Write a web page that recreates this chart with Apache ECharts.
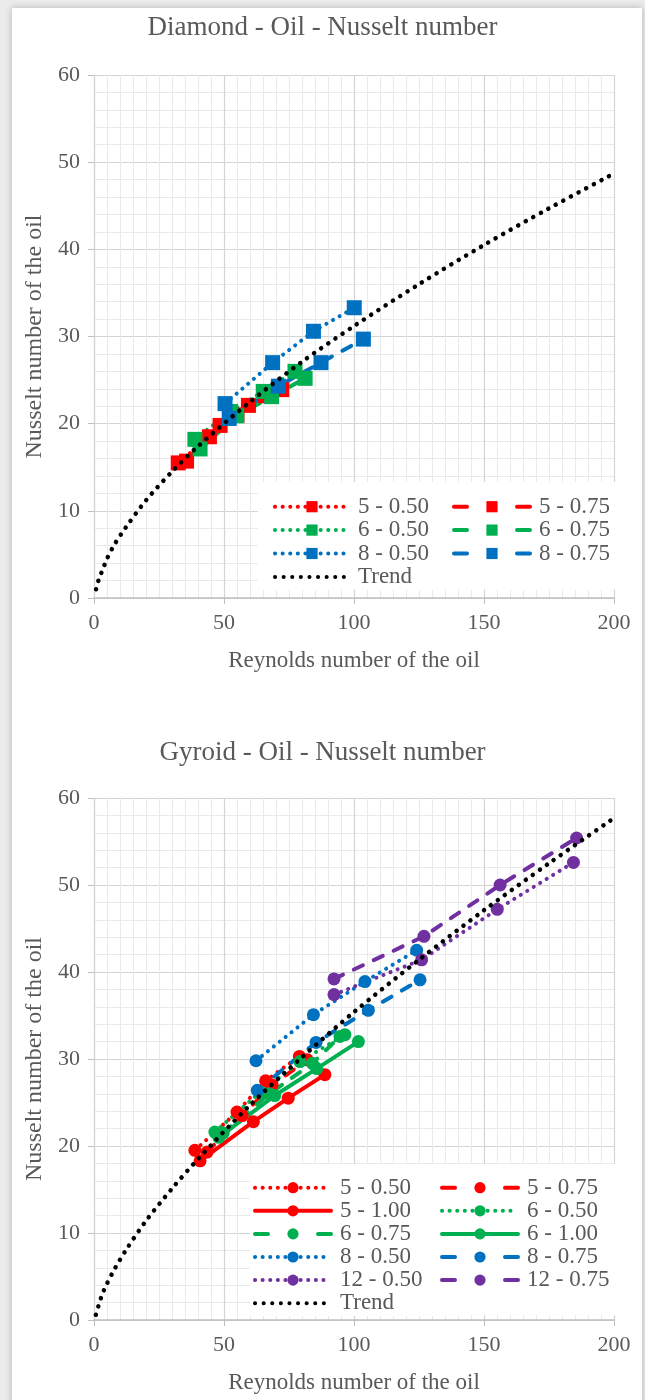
<!DOCTYPE html>
<html>
<head>
<meta charset="utf-8">
<script src="https://cdn.jsdelivr.net/npm/echarts@6/dist/echarts.min.js"></script>
<style>
  html, body { margin: 0; padding: 0; background: #ececec; }
  #card { position: absolute; left: 12px; top: 8px; width: 630px; height: 1400px; background: #fff; box-shadow: 0 0 7px rgba(0,0,0,0.25); }
  #c1 { position: absolute; left: 0; top: 0; width: 645px; height: 700px; }
  #c2 { position: absolute; left: 0; top: 700px; width: 645px; height: 700px; }
</style>
</head>
<body>
<div id="card"></div>
<div id="c1"></div>
<div id="c2"></div>
<script>
// ---------- Data ----------
const titles = ['Diamond - Oil - Nusselt number', 'Gyroid - Oil - Nusselt number'];
const xName = 'Reynolds number of the oil';
const yName = 'Nusselt number of the oil';

// Diamond
const d5_050 = [[32.4,15.5],[44.4,18.5],[55.0,21.0],[66.0,23.2]];
const d5_075 = [[35.6,15.7],[48.5,19.8],[59.4,22.1],[72.2,23.9]];
const d6_050 = [[38.8,18.2],[52.5,21.4],[65.1,23.7],[77.3,26.0]];
const d6_075 = [[40.8,17.1],[54.9,20.9],[68.3,23.1],[81.2,25.2]];
const d8_050 = [[50.4,22.3],[68.7,27.0],[84.4,30.6],[100.1,33.3]];
const d8_075 = [[52.0,20.6],[70.9,24.3],[87.3,27.0],[103.6,29.7]];
const dTrend = [[0.8,1.0],[1.8,2.1],[3.4,3.3],[5,4.5],[8,6.2],[12,8.0],[20,11.2],[30,14.5],[40,17.4],[60,22.5],[80,27.1],[100,31.2],[125,36.0],[150,40.5],[175,44.7],[200,48.7]];

// Gyroid
const g5_050 = [[38.8,19.5],[55.0,23.9],[66.0,27.5],[79.0,30.3]];
const g5_075 = [[43.5,19.3],[57.0,23.5],[68.5,27.0],[82.0,29.9]];
const g5_100 = [[40.8,18.3],[61.3,22.8],[74.7,25.5],[88.8,28.2]];
const g6_050 = [[46.5,21.6],[64.0,26.2],[79.2,29.7],[96.5,32.8]];
const g6_075 = [[49.7,21.5],[67.5,26.0],[84.0,29.5],[94.6,32.6]];
const g6_100 = [[48.0,21.0],[69.5,25.8],[85.7,28.9],[101.7,32.0]];
const g8_050 = [[62.3,29.8],[84.4,35.1],[104.2,38.9],[124.1,42.5]];
const g8_075 = [[62.8,26.4],[85.4,31.9],[105.5,35.6],[125.4,39.1]];
const g12_050 = [[92.3,37.4],[126.0,41.4],[155.1,47.2],[184.4,52.6]];
const g12_075 = [[92.3,39.2],[126.9,44.1],[156.2,50.0],[185.6,55.4]];
const gTrend = [[0.7,0.6],[1.8,1.7],[3.1,2.9],[4.7,4.0],[8,5.9],[12,7.9],[20,11.4],[30,15.1],[40,18.5],[60,24.7],[80,30.2],[100,35.4],[125,41.4],[150,47.1],[175,52.5],[200,57.7]];

const xMin = 0, xMax = 200, xStep = 50;
const yMin = 0, yMax = 60, yStep = 10;

// ---------- Styling ----------
const FONT = 'Liberation Serif';
const TXT = '#595959';
const C = { red: '#FF0000', green: '#00B050', blue: '#0070C0', purple: '#7030A0', black: '#000000' };
const DOT = [0.1, 7.5];
const DASH = [10, 12];

function xAxis() {
  return {
    type: 'value', min: xMin, max: xMax, interval: xStep,
    name: xName, nameLocation: 'middle', nameGap: 51,
    nameTextStyle: { fontFamily: FONT, fontSize: 23, color: TXT },
    axisLine: { show: true, lineStyle: { color: '#bfbfbf', width: 1.5 } },
    axisTick: { show: true, length: 6, lineStyle: { color: '#bfbfbf' } },
    axisLabel: { fontFamily: FONT, fontSize: 22, color: TXT, margin: 14 },
    splitLine: { show: true, lineStyle: { color: '#d4d4d4', width: 1.2 } },
    minorTick: { show: false, splitNumber: 10 },
    minorSplitLine: { show: true, lineStyle: { color: '#eaeaea', width: 1 } }
  };
}
function yAxis() {
  return {
    type: 'value', min: yMin, max: yMax, interval: yStep,
    name: yName, nameLocation: 'middle', nameGap: 47,
    nameTextStyle: { fontFamily: FONT, fontSize: 24, color: TXT },
    axisLine: { show: true, lineStyle: { color: '#d4d4d4', width: 1.2 } },
    axisTick: { show: true, length: 6, lineStyle: { color: '#bfbfbf' } },
    axisLabel: { fontFamily: FONT, fontSize: 22, color: TXT, margin: 14 },
    splitLine: { show: true, lineStyle: { color: '#d4d4d4', width: 1.2 } },
    minorTick: { show: false, splitNumber: 5 },
    minorSplitLine: { show: true, lineStyle: { color: '#eaeaea', width: 1 } }
  };
}

function s(name, data, color, dash, symbol, size) {
  return {
    name: name, type: 'line', data: data,
    symbol: symbol, symbolSize: size, showSymbol: true,
    itemStyle: { color: color },
    lineStyle: { color: color, width: 4, type: dash, cap: 'round' },
    z: 2, emphasis: { disabled: true }
  };
}
function trend(data) {
  return {
    name: 'Trend', type: 'line', data: data,
    symbol: 'none', smooth: 0.3,
    itemStyle: { color: C.black },
    lineStyle: { color: C.black, width: 4.5, type: [0.1, 8.5], cap: 'round' },
    z: 3, emphasis: { disabled: true }
  };
}

const legendText = { fontFamily: FONT, fontSize: 23, color: TXT, lineHeight: 23.4, padding: [0, 0, 0, 4] };
function legendItem(n) {
  if (n === 'Trend') return { name: n, itemStyle: { opacity: 0, borderWidth: 0 } };
  if (/0\.75$/.test(n)) return { name: n, lineStyle: { type: [13, 50], width: 4, cap: 'round' } };
  return n;
}
function legend(data, left, top, padding, itemWidth, gap) {
  return {
    data: data.map(legendItem),
    orient: 'vertical', left: left, top: top, padding: padding,
    itemWidth: itemWidth, itemHeight: 14, itemGap: gap,
    lineStyle: { width: 4, cap: 'round' },
    backgroundColor: '#ffffff', textStyle: legendText, selectedMode: false,
    inactiveColor: TXT
  };
}
function titleOpt(text, top) {
  return { text: text, left: 'center', top: top, textStyle: { fontFamily: FONT, fontSize: 27, fontWeight: 'normal', color: TXT } };
}

const option1 = {
  animation: false,
  backgroundColor: 'transparent',
  title: titleOpt(titles[0], 9),
  grid: { left: 94, top: 75, width: 520, height: 523 },
  xAxis: xAxis(),
  yAxis: yAxis(),
  legend: [
    legend(['5 - 0.50', '6 - 0.50', '8 - 0.50', 'Trend'], 258, 482, [13, 12, 1, 15], 74, 0),
    legend(['5 - 0.75', '6 - 0.75', '8 - 0.75'], 440, 482, [13, 30, 24.4, 12], 76, 0)
  ],
  series: [
    s('5 - 0.50', d5_050, C.red, DOT, 'rect', 15),
    s('5 - 0.75', d5_075, C.red, DASH, 'rect', 15),
    s('6 - 0.50', d6_050, C.green, DOT, 'rect', 15),
    s('6 - 0.75', d6_075, C.green, DASH, 'rect', 15),
    s('8 - 0.50', d8_050, C.blue, DOT, 'rect', 15),
    s('8 - 0.75', d8_075, C.blue, DASH, 'rect', 15),
    trend(dTrend)
  ]
};

const option2 = {
  animation: false,
  backgroundColor: 'transparent',
  title: titleOpt(titles[1], 34),
  grid: { left: 94, top: 98, width: 520, height: 522 },
  xAxis: xAxis(),
  yAxis: yAxis(),
  legend: [
    legend(['5 - 0.50', '5 - 1.00', '6 - 0.75', '8 - 0.50', '12 - 0.50', 'Trend'], 250, 464, [12, 12, 1, 3], 76, -0.3),
    legend(['5 - 0.75', '6 - 0.50', '6 - 1.00', '8 - 0.75', '12 - 0.75'], 430, 464, [12, 30, 23.5, 10], 76, -0.3)
  ],
  series: [
    s('5 - 0.50', g5_050, C.red, DOT, 'circle', 13),
    s('5 - 0.75', g5_075, C.red, DASH, 'circle', 13),
    s('5 - 1.00', g5_100, C.red, 'solid', 'circle', 13),
    s('6 - 0.50', g6_050, C.green, DOT, 'circle', 13),
    s('6 - 0.75', g6_075, C.green, DASH, 'circle', 13),
    s('6 - 1.00', g6_100, C.green, 'solid', 'circle', 13),
    s('8 - 0.50', g8_050, C.blue, DOT, 'circle', 13),
    s('8 - 0.75', g8_075, C.blue, DASH, 'circle', 13),
    s('12 - 0.50', g12_050, C.purple, DOT, 'circle', 13),
    s('12 - 0.75', g12_075, C.purple, DASH, 'circle', 13),
    trend(gTrend)
  ]
};

echarts.init(document.getElementById('c1'), null, { renderer: 'canvas' }).setOption(option1);
echarts.init(document.getElementById('c2'), null, { renderer: 'canvas' }).setOption(option2);
</script>
</body>
</html>
